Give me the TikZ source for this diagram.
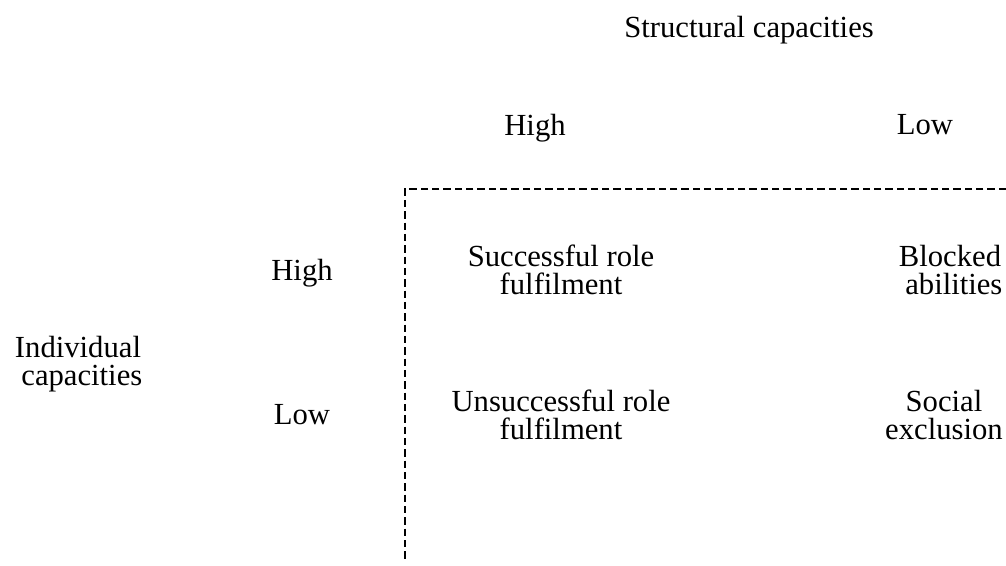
\documentclass[tikz,border=0pt]{standalone}
\usepackage{fontspec}
\setmainfont{Liberation Serif}
\usetikzlibrary{positioning}

\begin{document}
\begin{tikzpicture}[x=0.75pt,y=-0.75pt,
	every node/.style={font=\fontsize{23}{21.5}\selectfont, align=center, inner sep=0pt},
	gridline/.style={line width=1.4pt, dash pattern=on 5.5pt off 3pt}]
\useasboundingbox (0,0) rectangle (1006,566);

% axis headings
\node (structural) at (749,30) {Structural capacities};
\node (colhigh) at (535,128) {High};
\node (collow) at (925,125) {Low};
\node (individual) at (78,364) {Individual\\ \ capacities};
\node (rowhigh) at (302,273) {High};
\node (rowlow) at (302,415) {Low};

% cells
\node (success) at (561,270) {Successful role\\fulfilment};
\node (blocked) at (950,270) {Blocked\\ \ abilities};
\node (unsuccess) at (561,415) {Unsuccessful role\\fulfilment};
\node (exclusion) at (944,415) {Social\\exclusion};

% dashed frame
\coordinate (corner) at (405,189);
\coordinate (rightend) at (1006,189);
\coordinate (bottomend) at (405,560);
\draw[gridline] (rightend) -- (corner) -- (bottomend);
\end{tikzpicture}
\end{document}
